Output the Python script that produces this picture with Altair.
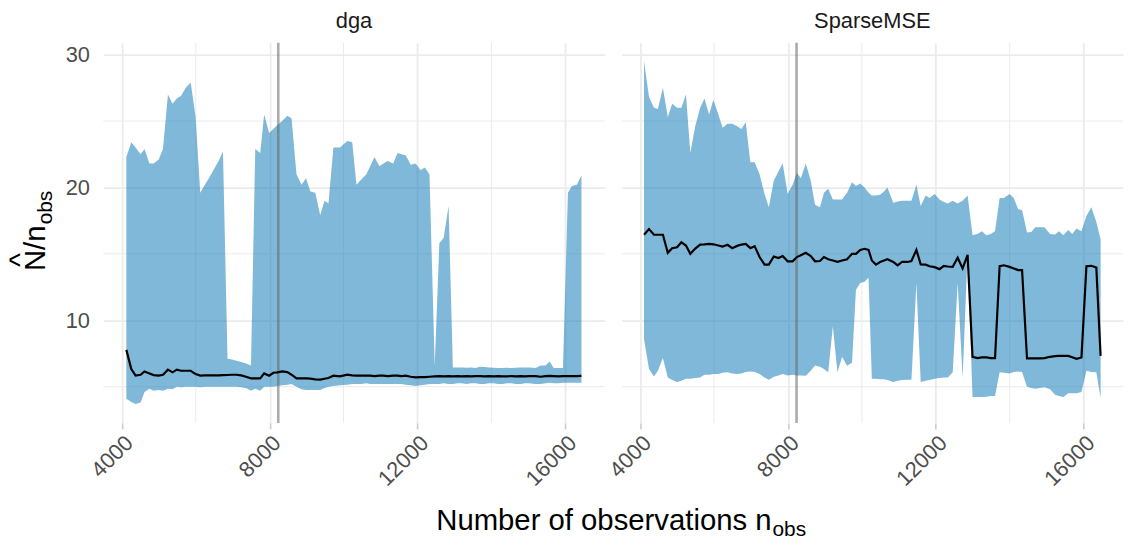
import altair as alt
import pandas as pd

# ---------------- data ----------------
panel_names = ["dga", "SparseMSE"]

dga_n = [4123, 4257, 4373, 4508, 4615, 4748, 4864, 4998, 5114, 5248,
         5373, 5489, 5605, 5730, 5863, 5997, 6122, 6247, 6380, 6500,
         6620, 6737, 6860, 6980, 7100, 7230, 7360, 7495, 7611, 7745,
         7852, 7986, 8100, 8209, 8340, 8476, 8592, 8726, 8860, 8985,
         9101, 9234, 9368, 9484, 9591, 9725, 9903, 10099, 10233, 10349,
         10480, 10617, 10720, 10835, 10969, 11080, 11193, 11342, 11460, 11570,
         11683, 11816, 11950, 12084, 12199, 12324, 12466, 12591, 12707, 12841,
         12957, 13080, 13200, 13330, 13450, 13570, 13690, 13810, 13930, 14060,
         14180, 14300, 14420, 14540, 14660, 14795, 14910, 15018, 15196, 15330,
         15464, 15571, 15687, 15810, 15936, 16070, 16177, 16310, 16435]
dga_upper = [22.3, 23.4, 23.0, 22.5, 22.9, 21.8, 21.8, 22.1, 22.9, 27.0,
             26.3, 26.7, 26.9, 27.5, 27.9, 25.3, 19.6, 20.2, 20.8, 21.4,
             22.0, 22.7, 7.1, 7.05, 6.95, 6.85, 6.75, 6.6, 22.9, 22.6,
             25.5, 24.1, 24.4, 24.7, 25.0, 25.4, 25.2, 21.0, 20.2, 20.7,
             19.7, 19.6, 17.9, 19.0, 18.8, 23.0, 23.0, 23.5, 23.4, 20.2,
             20.6, 21.0, 21.6, 22.3, 21.6, 21.8, 22.0, 21.8, 22.6, 22.5,
             22.4, 21.7, 21.8, 21.3, 21.5, 21.0, 6.6, 15.8, 16.2, 18.6,
             6.45, 6.45, 6.45, 6.42, 6.45, 6.4, 6.5, 6.48, 6.45, 6.42,
             6.4, 6.4, 6.42, 6.4, 6.42, 6.45, 6.45, 6.45, 6.4, 6.6,
             6.6, 6.9, 6.4, 6.4, 6.4, 19.6, 20.1, 20.2, 20.9]
dga_lower = [4.1, 3.85, 3.7, 3.8, 4.6, 4.85, 4.7, 4.75, 4.7, 4.85,
             4.8, 5.0, 4.95, 5.0, 5.0, 5.0, 4.95, 5.0, 5.0, 5.0,
             5.0, 5.0, 5.0, 5.0, 5.0, 4.95, 4.9, 4.7, 4.85, 4.7,
             5.0, 5.0, 5.0, 5.05, 5.1, 5.15, 5.2, 5.0, 4.8, 4.75,
             4.75, 4.75, 4.75, 4.9, 5.0, 5.05, 5.1, 5.15, 5.2, 5.2,
             5.2, 5.25, 5.2, 5.2, 5.2, 5.2, 5.2, 5.2, 5.2, 5.2,
             5.15, 5.1, 5.05, 5.1, 5.15, 5.2, 5.2, 5.2, 5.25, 5.2,
             5.2, 5.25, 5.25, 5.2, 5.25, 5.25, 5.2, 5.2, 5.25, 5.25,
             5.2, 5.2, 5.25, 5.25, 5.2, 5.2, 5.25, 5.25, 5.2, 5.2,
             5.25, 5.3, 5.25, 5.25, 5.3, 5.3, 5.3, 5.3, 5.3]
dga_mean = [7.77, 6.33, 5.83, 5.9, 6.15, 6.0, 5.87, 5.83, 5.9, 6.28,
            6.08, 6.28, 6.2, 6.2, 6.2, 5.95, 5.83, 5.85, 5.85, 5.85,
            5.85, 5.87, 5.88, 5.9, 5.9, 5.85, 5.75, 5.63, 5.63, 5.63,
            6.0, 5.83, 6.05, 6.08, 6.15, 6.1, 5.9, 5.63, 5.63, 5.63,
            5.6, 5.55, 5.53, 5.6, 5.65, 5.83, 5.78, 5.9, 5.85, 5.83,
            5.83, 5.83, 5.83, 5.8, 5.83, 5.83, 5.8, 5.83, 5.83, 5.8,
            5.83, 5.75, 5.7, 5.72, 5.72, 5.75, 5.78, 5.8, 5.78, 5.8,
            5.78, 5.8, 5.78, 5.8, 5.78, 5.8, 5.8, 5.78, 5.8, 5.78,
            5.8, 5.78, 5.78, 5.8, 5.78, 5.8, 5.78, 5.8, 5.8, 5.75,
            5.8, 5.82, 5.8, 5.78, 5.8, 5.8, 5.8, 5.8, 5.82]

sp_n = [4107, 4241, 4375, 4482, 4617, 4750, 4867, 5001, 5117, 5242,
        5358, 5492, 5626, 5742, 5867, 5983, 6117, 6233, 6367, 6492,
        6626, 6742, 6858, 6983, 7099, 7233, 7367, 7483, 7617, 7742,
        7858, 7992, 8126, 8242, 8349, 8483, 8617, 8733, 8867, 8974,
        9090, 9215, 9340, 9465, 9599, 9733, 9840, 9956, 10072, 10181,
        10270, 10380, 10493, 10600, 10690, 10850, 10967, 11090, 11230, 11341,
        11475, 11592, 11726, 11833, 11967, 12101, 12217, 12324, 12458, 12592,
        12726, 12860, 12994, 13129, 13245, 13370, 13487, 13603, 13727, 13843,
        13995, 14111, 14227, 14334, 14468, 14584, 14691, 14820, 14941, 15093,
        15227, 15334, 15450, 15584, 15691, 15807, 15941, 16075, 16209, 16343,
        16459]
sp_upper = [29.5, 26.8, 26.0, 25.9, 27.5, 25.3, 26.3, 26.0, 26.0, 27.0,
            22.6, 24.6, 26.0, 26.7, 25.5, 26.6, 25.5, 24.5, 24.8, 24.8,
            24.6, 24.4, 24.9, 21.9, 21.9, 21.0, 19.5, 18.5, 20.5, 21.2,
            21.8, 19.5, 20.2, 21.1, 20.7, 21.8, 20.5, 18.7, 18.5, 19.6,
            19.9, 19.1, 19.1, 19.1, 19.6, 20.4, 20.1, 20.3, 20.0, 19.6,
            19.4, 19.4, 19.45, 19.7, 20.0, 18.85, 18.95, 19.0, 19.0, 19.0,
            20.2, 18.6, 19.4, 19.2, 19.5, 19.1, 18.9, 18.8, 19.0, 18.8,
            19.0, 19.4, 16.4, 16.5, 16.7, 16.4, 16.5, 16.7, 19.2, 19.2,
            19.5, 19.2, 18.35, 18.3, 16.6, 16.65, 17.0, 17.0, 17.0, 16.5,
            16.45, 16.7, 16.4, 16.8, 16.5, 16.9, 16.7, 17.85, 18.5, 17.4,
            16.1]
sp_lower = [8.57, 6.33, 5.76, 6.2, 7.15, 5.7, 5.5, 5.35, 5.45, 5.6,
            5.6, 5.65, 5.7, 5.9, 5.9, 5.95, 5.95, 6.05, 6.08, 6.0,
            5.95, 6.0, 6.1, 6.15, 6.1, 5.95, 5.7, 5.53, 5.75, 5.85,
            5.95, 5.85, 5.9, 5.85, 5.85, 5.83, 6.2, 6.6, 6.5, 6.33,
            6.08, 9.55, 6.08, 7.25, 6.57, 6.8, 12.3, 12.8, 12.9, 13.2,
            5.6, 5.6, 5.55, 5.55, 5.5, 5.35, 5.45, 5.5, 5.53, 5.53,
            12.8, 5.35, 5.45, 5.5, 5.6, 5.65, 5.7, 5.7, 6.08, 12.8,
            5.7, 15.0, 4.22, 4.22, 4.22, 4.25, 4.3, 4.3, 6.08, 6.05,
            6.0, 6.1, 6.15, 6.1, 5.0, 4.9, 4.85, 4.9, 4.95, 4.8,
            4.4, 4.3, 4.22, 4.5, 4.5, 4.5, 4.6, 6.2, 6.1, 6.08,
            4.15]
sp_mean = [16.44, 16.86, 16.44, 16.44, 16.44, 15.08, 15.43, 15.5, 15.87, 15.63,
           15.0, 15.4, 15.7, 15.72, 15.75, 15.72, 15.63, 15.55, 15.68, 15.43,
           15.6, 15.7, 15.75, 15.43, 15.58, 14.76, 14.19, 14.19, 14.8, 14.68,
           14.83, 14.44, 14.44, 14.76, 14.9, 15.08, 14.83, 14.44, 14.46, 14.76,
           14.59, 14.5, 14.4, 14.5, 14.59, 15.0, 15.0, 15.3, 15.38, 15.3,
           14.5, 14.19, 14.39, 14.5, 14.59, 14.39, 14.14, 14.39, 14.39, 14.46,
           15.3, 14.21, 14.19, 14.07, 14.0, 13.85, 14.1, 14.05, 14.02, 14.71,
           13.9, 14.93, 7.25, 7.15, 7.2, 7.2, 7.15, 7.15, 14.07, 14.14,
           14.02, 13.9, 13.78, 13.78, 7.13, 7.13, 7.13, 7.13, 7.15, 7.25,
           7.3, 7.32, 7.32, 7.32, 7.22, 7.1, 7.2, 14.07, 14.1, 13.97,
           7.32]

ref_line_n = [8233]
x_major = [4000, 8000, 12000, 16000]
x_minor = [6000, 10000, 14000]
y_major = [10, 20, 30]
y_minor = [5, 15, 25]

x_title = "Number of observations n"
y_title = "N/n"
hat_text = "^"
sub_text = "obs"

# ---------------- styling ----------------
FONT = "Liberation Sans"
X_DOMAIN = [3500, 17065]
Y_DOMAIN = [2.27, 30.9]
W, H = 505, 383
GRID = "#ebebeb"

xsc = alt.Scale(domain=X_DOMAIN, nice=False, zero=False)
ysc = alt.Scale(domain=Y_DOMAIN, nice=False, zero=False)

x_axis = alt.Axis(values=x_major, grid=True, gridColor=GRID, gridWidth=1.8,
                  domain=False, ticks=True, tickColor="#cccccc", tickSize=6,
                  tickWidth=1.6, labelAngle=-45, labelAlign="right",
                  labelBaseline="top", labelFont=FONT, labelFontSize=22,
                  labelColor="#4d4d4d", labelPadding=3, title=None, format="d")


def y_axis(show):
    if show:
        return alt.Axis(values=y_major, grid=True, gridColor=GRID, gridWidth=1.8,
                        domain=False, ticks=False, tickSize=0, labelPadding=14,
                        labelFont=FONT, labelFontSize=22, labelColor="#4d4d4d",
                        title=None)
    return alt.Axis(values=y_major, grid=True, gridColor=GRID, gridWidth=1.8,
                    domain=False, ticks=False, tickSize=0, labels=False,
                    labelPadding=0, title=None)


def text_layer(txt, x, y, size, angle=0, align="left"):
    mk = dict(align=align, baseline="alphabetic", font=FONT, fontSize=size,
              color="black")
    if angle:
        mk["angle"] = angle
    return alt.Chart(pd.DataFrame({"t": [txt]})).mark_text(**mk).encode(
        x=alt.value(x), y=alt.value(y), text="t:N")


def panel(name, ns, lo, hi, mid, show_y):
    ya = y_axis(show_y)
    X = lambda f: alt.X(f, type="quantitative", scale=xsc, axis=x_axis)
    Y = lambda f: alt.Y(f, type="quantitative", scale=ysc, axis=ya)
    df = pd.DataFrame({"n": ns, "lo": lo, "hi": hi, "mid": mid})

    vminor = alt.Chart(pd.DataFrame({"v": x_minor})).mark_rule(
        color=GRID, strokeWidth=1.0).encode(x=X("v"))
    hminor = alt.Chart(pd.DataFrame({"v": y_minor})).mark_rule(
        color=GRID, strokeWidth=1.0).encode(y=Y("v"))
    band = alt.Chart(df).mark_area(color="#0072B2", opacity=0.5).encode(
        x=X("n"), y=Y("lo"), y2=alt.Y2("hi"))
    vline = alt.Chart(pd.DataFrame({"v": ref_line_n})).mark_rule(
        color="#666666", opacity=0.55, strokeWidth=2.6).encode(x=X("v"))
    line = alt.Chart(df).mark_line(color="black", strokeWidth=2.2).encode(
        x=X("n"), y=Y("mid"))
    layers = [vminor, hminor, band, vline, line]

    if show_y:
        layers += [
            text_layer(x_title, 673, 491, 29.5, align="right"),
            text_layer(sub_text, 674, 497, 21),
            text_layer(y_title, -59, 230, 29.5, angle=270),
            text_layer(hat_text, -74, 219, 30, angle=270, align="center"),
            text_layer(sub_text, -52, 183, 21, angle=270),
        ]

    return alt.layer(*layers).properties(
        width=W, height=H,
        title=alt.TitleParams(name, fontSize=22, font=FONT, fontWeight="normal",
                              color="#1a1a1a", anchor="middle", offset=8))


left = panel(panel_names[0], dga_n, dga_lower, dga_upper, dga_mean, True)
right = panel(panel_names[1], sp_n, sp_lower, sp_upper, sp_mean, False)

chart = alt.hconcat(left, right, spacing=17, bounds="flush").properties(
    padding={"left": -2, "top": 0, "right": 0, "bottom": 0},
    background="white",
).configure_view(stroke=None)

chart.save("out.html", embed_options={"renderer": "svg", "actions": False})
